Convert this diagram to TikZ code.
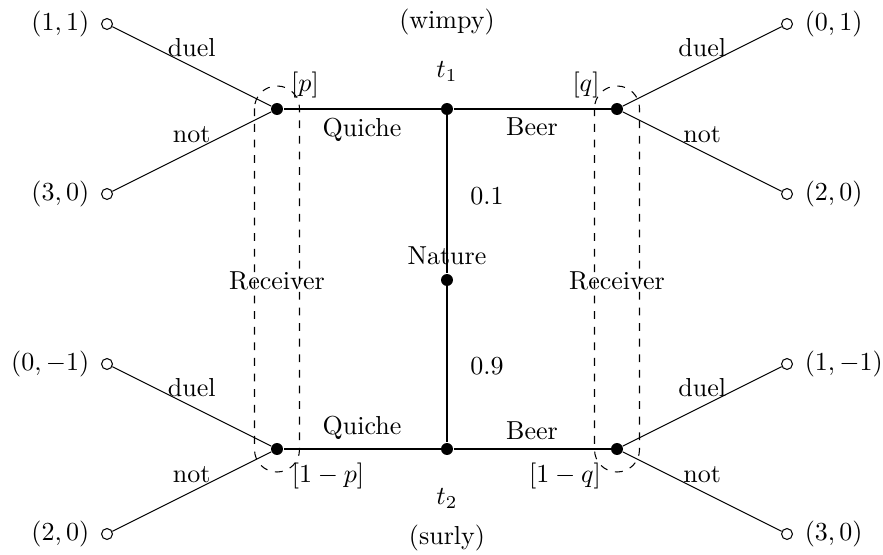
\documentclass[tikz,border=0pt]{standalone}
\usetikzlibrary{calc}
\begin{document}
\begin{tikzpicture}[x=0.3846pt,y=-0.3846pt,
  dec/.style={circle,fill=black,inner sep=0pt,minimum size=4.6pt},
  term/.style={circle,draw,fill=white,inner sep=0pt,minimum size=4.2pt},
  info/.style={dashed,rounded corners=8.6pt}]
\useasboundingbox (0,0) rectangle (883,555);
% decision nodes
\node[dec,label={above:Nature}] (N) at (447,280) {};
\node[dec,label={[label distance=4.6pt]above:$t_1$}] (T1) at (447,109) {};
\node[dec,label={[label distance=9.2pt]below:$t_2$}] (T2) at (447,449) {};
\node[dec] (L1) at (277,109) {};
\node[dec] (L2) at (277,449) {};
\node[dec] (R1) at (617,109) {};
\node[dec] (R2) at (617,449) {};
% terminals
\node[term,label={[label distance=1pt]left:$(1,1)$}] (a1) at (107,24) {};
\node[term,label={[label distance=1pt]left:$(3,0)$}] (a2) at (107,194) {};
\node[term,label={[label distance=1pt]left:$(0,-1)$}] (a3) at (107,364) {};
\node[term,label={[label distance=1pt]left:$(2,0)$}] (a4) at (107,534) {};
\node[term,label={[label distance=1pt]right:$(0,1)$}] (b1) at (787,24) {};
\node[term,label={[label distance=1pt]right:$(2,0)$}] (b2) at (787,194) {};
\node[term,label={[label distance=1pt]right:$(1,-1)$}] (b3) at (787,364) {};
\node[term,label={[label distance=1pt]right:$(3,0)$}] (b4) at (787,534) {};
% texts
\node (wimpy) at (447,22) {(wimpy)};
\node (surly) at (447,538) {(surly)};
\node (p01) at (487,196) {0.1};
\node (p09) at (487,366) {0.9};
\node (bp) at (305,85) {$[p]$};
\node (bq) at (586,85) {$[q]$};
\node (bp2) at (328,476) {$[1-p]$};
\node (bq2) at (565,476) {$[1-q]$};
% connectors
\draw (T1) -- (N);
\draw (N) -- (T2);
\draw (T1) -- node[below] {Quiche} (L1);
\draw (T1) -- node[below] {Beer} (R1);
\draw (T2) -- node[above] {Quiche} (L2);
\draw (T2) -- node[above] {Beer} (R2);
\draw (L1) -- node[above] {duel} (a1);
\draw (L1) -- node[above] {not} (a2);
\draw (L2) -- node[above] {duel} (a3);
\draw (L2) -- node[above] {not} (a4);
\draw (R1) -- node[above] {duel} (b1);
\draw (R1) -- node[above] {not} (b2);
\draw (R2) -- node[above] {duel} (b3);
\draw (R2) -- node[above] {not} (b4);
% information sets
\draw[info] ($(L1)+(-22.5,-23)$) rectangle ($(L2)+(22.5,23)$);
\draw[info] ($(R1)+(-22.5,-23)$) rectangle ($(R2)+(22.5,23)$);
\node (recL) at ($(L1)!0.5!(L2)+(0,2)$) {Receiver};
\node (recR) at ($(R1)!0.5!(R2)+(0,2)$) {Receiver};
\end{tikzpicture}
\end{document}
